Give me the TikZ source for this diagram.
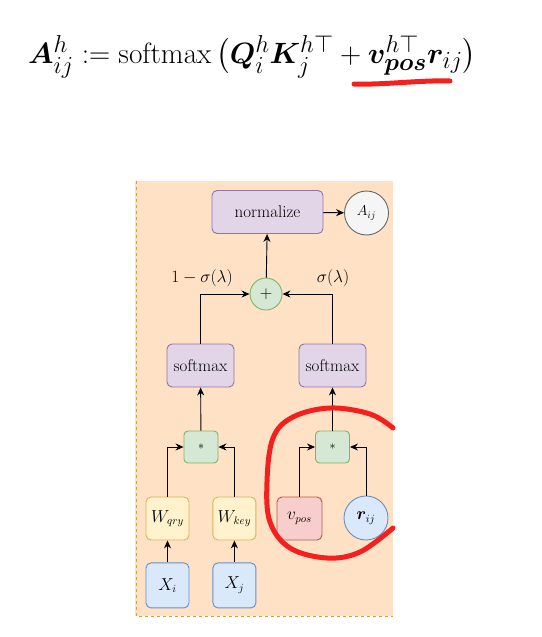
\documentclass[tikz,border=0pt]{standalone}
\usepackage{amsmath, amssymb, bm}
\usepackage{tikz}
\usetikzlibrary{positioning, arrows.meta}

\definecolor{panelF}{HTML}{FFE1C6}
\definecolor{panelD}{HTML}{E0A030}
\definecolor{purpF}{HTML}{E1D5E7}
\definecolor{purpD}{HTML}{9673A6}
\definecolor{grnF}{HTML}{D5E8D4}
\definecolor{grnD}{HTML}{82B366}
\definecolor{ylwF}{HTML}{FFF2CC}
\definecolor{ylwD}{HTML}{D6B656}
\definecolor{redF}{HTML}{F8CECC}
\definecolor{redD}{HTML}{B85450}
\definecolor{bluF}{HTML}{DAE8FC}
\definecolor{bluD}{HTML}{6C8EBF}
\definecolor{gryF}{HTML}{F5F5F5}
\definecolor{gryD}{HTML}{666666}
\definecolor{penRed}{HTML}{F5201E}

\begin{document}
\begin{tikzpicture}[
  x=1pt, y=-1pt,
  every node/.style={font=\fontsize{16}{19}\selectfont},
  box/.style={draw, rounded corners=5pt, line width=0.9pt, inner sep=0pt},
  opbox/.style={box, fill=purpF, draw=purpD, minimum height=43pt},
  mulbox/.style={box, fill=grnF, draw=grnD, minimum width=34pt, minimum height=32pt, rounded corners=4pt},
  wbox/.style={box, fill=ylwF, draw=ylwD, minimum width=43pt, minimum height=43pt},
  xbox/.style={box, fill=bluF, draw=bluD, minimum width=43pt, minimum height=45pt},
  arr/.style={->, >={Stealth[length=8pt, width=7pt]}, line width=0.9pt}
]
  \useasboundingbox (0,0) rectangle (541,637);

  % formula
  \node[anchor=base west, font=\Huge, inner sep=0pt] (eq) at (28,63)
    {\scalebox{1.18}{$\bm{A}^h_{ij} := \mathrm{softmax}\,\big(\bm{Q}^h_i \bm{K}^{h\top}_j + \bm{v}^{h\top}_{\bm{pos}}\bm{r}_{ij}\big)$}};
  \draw[penRed, line width=5pt, line cap=round] (354,84) .. controls (385,85) and (420,80) .. (450,81);

  % panel
  \fill[panelF] (135,181) rectangle (393,616);
  \draw[panelD, dashed, line width=1pt] (136,181) -- (136,616) -- (393,616);

  \node[opbox, minimum width=111pt, font=\fontsize{17}{20}\selectfont] (norm) at (267.5,212) {normalize};
  \node[circle, draw=gryD, fill=gryF, line width=0.9pt, minimum size=44pt, inner sep=0pt,
        font=\Large] (aij) at (366.5,213) {$A_{ij}$};
  \node[circle, draw=grnD, fill=grnF, line width=0.9pt, minimum size=32pt, inner sep=0pt] (plus) at (266,294) {$+$};
  \node (lwt) at (202,278) {$1-\sigma(\lambda)$};
  \node (rwt) at (333,278) {$\sigma(\lambda)$};

  \node[opbox, minimum width=67pt, font=\fontsize{17}{20}\selectfont] (lsm) at (200.5,365.5) {softmax};
  \node[opbox, minimum width=67pt, font=\fontsize{17}{20}\selectfont] (rsm) at (332.5,365.5) {softmax};
  \node[mulbox, font=\fontsize{12}{14}\selectfont] (lmul) at (201,447) {$*$};
  \node[mulbox, font=\fontsize{12}{14}\selectfont] (rmul) at (332.5,447) {$*$};

  \node[wbox] (wq) at (167.5,518.5) {$W_{qry}$};
  \node[wbox, right=23pt of wq] (wk) {$W_{key}$};
  \node[box, fill=redF, draw=redD, minimum width=45pt, minimum height=43pt] (vp) at (299.5,518.5) {$v_{pos}$};
  \node[circle, draw=bluD, fill=bluF, line width=0.9pt, minimum size=44pt, inner sep=0pt] (rij) at (366,518) {$\bm{r}_{ij}$};
  \node[xbox, below=22pt of wq] (xi) {$X_i$};
  \node[xbox, below=22pt of wk] (xj) {$X_j$};

  \draw[arr] (xi) -- (wq);
  \draw[arr] (xj) -- (wk);
  \draw[arr] (wq.north) |- (lmul.west);
  \draw[arr] (wk.north) |- (lmul.east);
  \draw[arr] (vp.north) |- (rmul.west);
  \draw[arr] (rij.north) |- (rmul.east);
  \draw[arr] (lmul) -- (lsm);
  \draw[arr] (rmul) -- (rsm);
  \draw[arr] (lsm.north) |- (plus.west);
  \draw[arr] (rsm.north) |- (plus.east);
  \draw[arr] (plus) -- (norm);
  \draw[arr] (norm) -- (aij);

  % hand drawn ring
  \draw[penRed, line width=5pt, line cap=round] plot[smooth, tension=0.6] coordinates
    {(393,428) (370,414) (330,408) (293,417) (273,438) (267,482) (270,522) (290,548) (327,558) (360,552) (393,528)};
\end{tikzpicture}
\end{document}
